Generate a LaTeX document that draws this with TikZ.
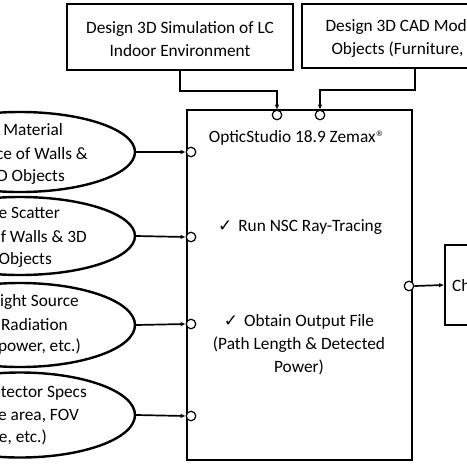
\documentclass[tikz,border=0pt]{standalone}
\usepackage{fontspec}
\setmainfont{Carlito}
\newfontfamily\symfont{DejaVu Sans}
\usetikzlibrary{shapes.geometric,arrows.meta}
\begin{document}
\begin{tikzpicture}[x=1pt,y=-1pt,
  box/.style={draw, line width=1.7pt, inner sep=0pt},
  oval/.style={draw, ellipse, line width=2.4pt, minimum width=230pt, minimum height=80pt, inner sep=0pt},
  port/.style={draw, circle, line width=1.2pt, fill=white, minimum size=9.5pt, inner sep=0pt},
  conn/.style={line width=1.7pt, -{Latex[length=5pt,width=4.5pt]}},
  txt/.style={font=\fontsize{17.3}{23}\selectfont, inner sep=0pt},
  lt/.style={txt, anchor=east}
]
\newcommand{\chkmark}{{\symfont\fontsize{17}{17}\selectfont ✓}}
\useasboundingbox (0,0) rectangle (467,467);
\clip (0,0) rectangle (467,467);

% top boxes
\node[box, minimum width=226pt, minimum height=66pt] (t1) at (180,37) {};
\node[txt, align=center] (t1t) at (180,39) {Design 3D Simulation of LC\\Indoor Environment};
\node[box, minimum width=226pt, minimum height=64pt] (t2) at (415,36) {};
\node[txt, align=center] (t2t) at (415,38.5) {Design 3D CAD Models of\\Objects (Furniture, etc.)};

% main box
\node[box, minimum width=225pt, minimum height=350pt] (main) at (299.5,285) {};
\node[txt] (title) at (296,138) {OpticStudio 18.9 Zemax\raisebox{6pt}{\symfont\fontsize{7.5}{8}\selectfont ®}};
\node[txt] (run) at (300,227) {\chkmark\hspace{6pt}Run NSC Ray-Tracing};
\node[txt, align=center] (obt) at (299,345) {\chkmark\hspace{6pt}Obtain Output File\\(Path Length \& Detected\\Power)};

% output box
\node[box, minimum width=100pt, minimum height=80pt] (out) at (495,285) {};
\node[txt, anchor=west] (outt) at (452,286) {Channel};

% ellipses
\node[oval] (e1) at (20,152) {};
\node[oval, minimum height=78pt] (e2) at (20,236) {};
\node[oval, minimum height=84pt] (e3) at (20,325) {};
\node[oval, minimum height=85pt] (e4) at (20,415) {};

\node[lt] (e1a) at (63,130) {Set Material};
\node[lt] (e1b) at (88,154) {Reflectance of Walls \&};
\node[lt] (e1c) at (65,177) {3D Objects};

\node[lt] (e2a) at (60,213) {Surface Scatter};
\node[lt] (e2b) at (87,237) {Models of Walls \& 3D};
\node[lt] (e2c) at (52,260) {3D Objects};

\node[lt] (e3a) at (79,302) {Set Light Source};
\node[lt] (e3b) at (68,325) {Radiation};
\node[lt] (e3c) at (81,347) {(Optical power, etc.)};

\node[lt] (e4a) at (87,393) {Set Detector Specs};
\node[lt] (e4b) at (79,415) {(Active area, FOV};
\node[lt] (e4c) at (47,438) {type, etc.)};

% ports
\node[port] (p1) at (277,115) {};
\node[port] (p2) at (320,115) {};
\node[port] (q1) at (191,152) {};
\node[port] (q2) at (191,237) {};
\node[port] (q3) at (191,324) {};
\node[port] (q4) at (191,416) {};
\node[port] (q5) at (409,286) {};

% connectors
\draw[conn] (t1.south) -- ++(0,20) -| (p1.north);
\draw[conn] (t2.south) -- ++(0,21) -| (p2.north);
\draw[conn] (e1.east) -- (q1.west);
\draw[conn] (e2.east) -- (q2.west);
\draw[conn] (e3.east) -- (q3.west);
\draw[conn] (e4.east) -- (q4.west);
\draw[conn] (q5.east) -- (out.west);
\end{tikzpicture}
\end{document}
